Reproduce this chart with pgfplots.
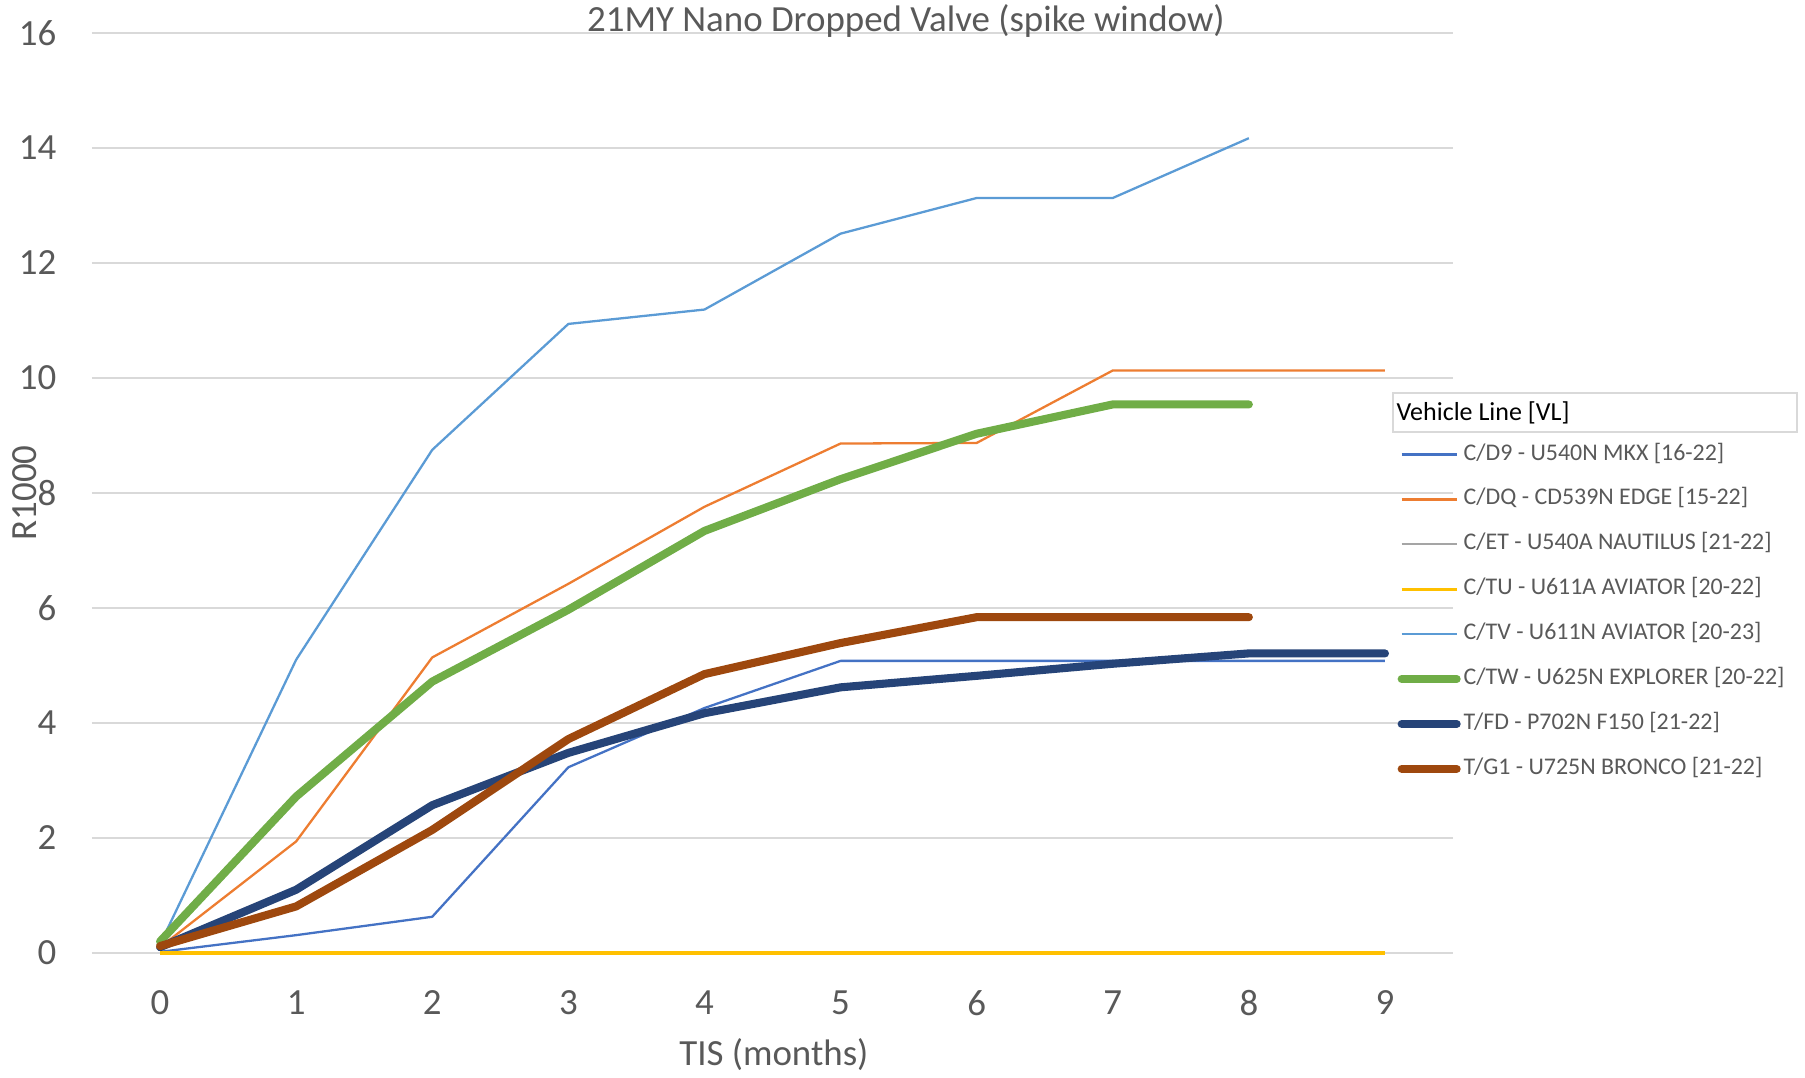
\documentclass[border=0pt]{standalone}
\usepackage{fontspec}
\setmainfont{Carlito}
\usepackage{pgfplots}
\pgfplotsset{compat=1.18}

\definecolor{cD9}{HTML}{4472C4}
\definecolor{cDQ}{HTML}{ED7D31}
\definecolor{cET}{HTML}{A5A5A5}
\definecolor{cTU}{HTML}{FFC000}
\definecolor{cTV}{HTML}{5B9BD5}
\definecolor{cTW}{HTML}{70AD47}
\definecolor{cFD}{HTML}{264478}
\definecolor{cG1}{HTML}{9E480E}
\definecolor{txt}{HTML}{595959}
\definecolor{gridc}{HTML}{D9D9D9}

\begin{document}
\begin{tikzpicture}
\useasboundingbox (-0.92,-1.25) rectangle (17.13,9.53);
\begin{axis}[
    scale only axis,
    width=13.61cm, height=9.20cm,
    xmin=-0.5, xmax=9.5, ymin=0, ymax=16,
    xtick={0,...,9}, ytick={0,2,...,16},
    ymajorgrids, grid style={gridc, line width=0.45pt},
    axis line style={draw=none}, major tick length=0pt,
    /pgf/number format/assume math mode=true,
    tick label style={font=\fontsize{10.5}{12}\selectfont, text=txt},
    yticklabel style={inner sep=0pt, anchor=east, xshift=-0.35cm},
    xticklabel style={inner sep=0pt, anchor=north, yshift=-0.37cm},
    title={21MY Nano Dropped Valve (spike window)},
    title style={at={(axis description cs:0.598,0.990)}, anchor=center,
        yshift=0pt, inner sep=0pt, font=\fontsize{10.5}{12}\selectfont, text=txt},
    xlabel={TIS (months)},
    xlabel style={at={(axis description cs:0.501,-0.11)}, anchor=center,
        inner sep=0pt, font=\fontsize{10.5}{12}\selectfont, text=txt},
    ylabel={R1000},
    ylabel style={at={(axis description cs:-0.0492,0.5)}, anchor=center,
        inner sep=0pt, font=\fontsize{10.5}{12}\selectfont, text=txt},
    legend style={at={(axis description cs:0.9588,0.554)}, anchor=north west,
        draw=none, fill=none, inner sep=0pt, text=txt,
        font=\fontsize{6.8}{8}\selectfont,
        row sep=2.39mm, column sep=0.3mm,
        nodes={inner sep=0pt, text height=1.6mm, text depth=0.5mm}},
    legend cell align=left,
    legend image code/.code={\draw[#1] (0cm,0cm) -- (0.55cm,0cm);},
    no markers,
    clip=false,
]
\addplot[cD9, line width=0.65pt, line join=round] coordinates {
  (0,0.02) (1,0.31) (2,0.63) (3,3.23) (4,4.26) (5,5.08) (6,5.08) (7,5.08) (8,5.08) (9,5.08)};
\addlegendentry{C/D9 - U540N MKX [16-22]}
\addplot[cDQ, line width=0.65pt, line join=round] coordinates {
  (0,0.10) (1,1.94) (2,5.14) (3,6.42) (4,7.76) (5,8.86) (6,8.87) (7,10.13) (8,10.13) (9,10.13)};
\addlegendentry{C/DQ - CD539N EDGE [15-22]}
\addplot[cET, line width=0.65pt, line join=round] coordinates {
  (0,0) (1,0) (2,0) (3,0) (4,0) (5,0) (6,0) (7,0) (8,0) (9,0)};
\addlegendentry{C/ET - U540A NAUTILUS [21-22]}
\addplot[cTU, line width=0.9pt, line join=round] coordinates {
  (0,0) (1,0) (2,0) (3,0) (4,0) (5,0) (6,0) (7,0) (8,0) (9,0)};
\addlegendentry{C/TU - U611A AVIATOR [20-22]}
\addplot[cTV, line width=0.65pt, line join=round] coordinates {
  (0,0.15) (1,5.10) (2,8.75) (3,10.94) (4,11.19) (5,12.51) (6,13.13) (7,13.13) (8,14.17)};
\addlegendentry{C/TV - U611N AVIATOR [20-23]}
\addplot[cTW, line width=2.3pt, line join=round, line cap=round] coordinates {
  (0,0.20) (1,2.72) (2,4.72) (3,5.97) (4,7.34) (5,8.24) (6,9.03) (7,9.54) (8,9.54)};
\addlegendentry{C/TW - U625N EXPLORER [20-22]}
\addplot[cFD, line width=2.3pt, line join=round, line cap=round] coordinates {
  (0,0.10) (1,1.10) (2,2.57) (3,3.48) (4,4.17) (5,4.62) (6,4.82) (7,5.03) (8,5.21) (9,5.21)};
\addlegendentry{T/FD - P702N F150 [21-22]}
\addplot[cG1, line width=2.3pt, line join=round, line cap=round] coordinates {
  (0,0.12) (1,0.81) (2,2.14) (3,3.72) (4,4.85) (5,5.39) (6,5.84) (7,5.84) (8,5.84)};
\addlegendentry{T/G1 - U725N BRONCO [21-22]}
\end{axis}
\draw[gridc, line width=0.45pt] (13.01,5.21) rectangle (17.05,5.60);
\node[anchor=west, inner sep=0pt, font=\fontsize{7.4}{9}\selectfont] at (13.04,5.40) {Vehicle Line [VL]};
\end{tikzpicture}
\end{document}
